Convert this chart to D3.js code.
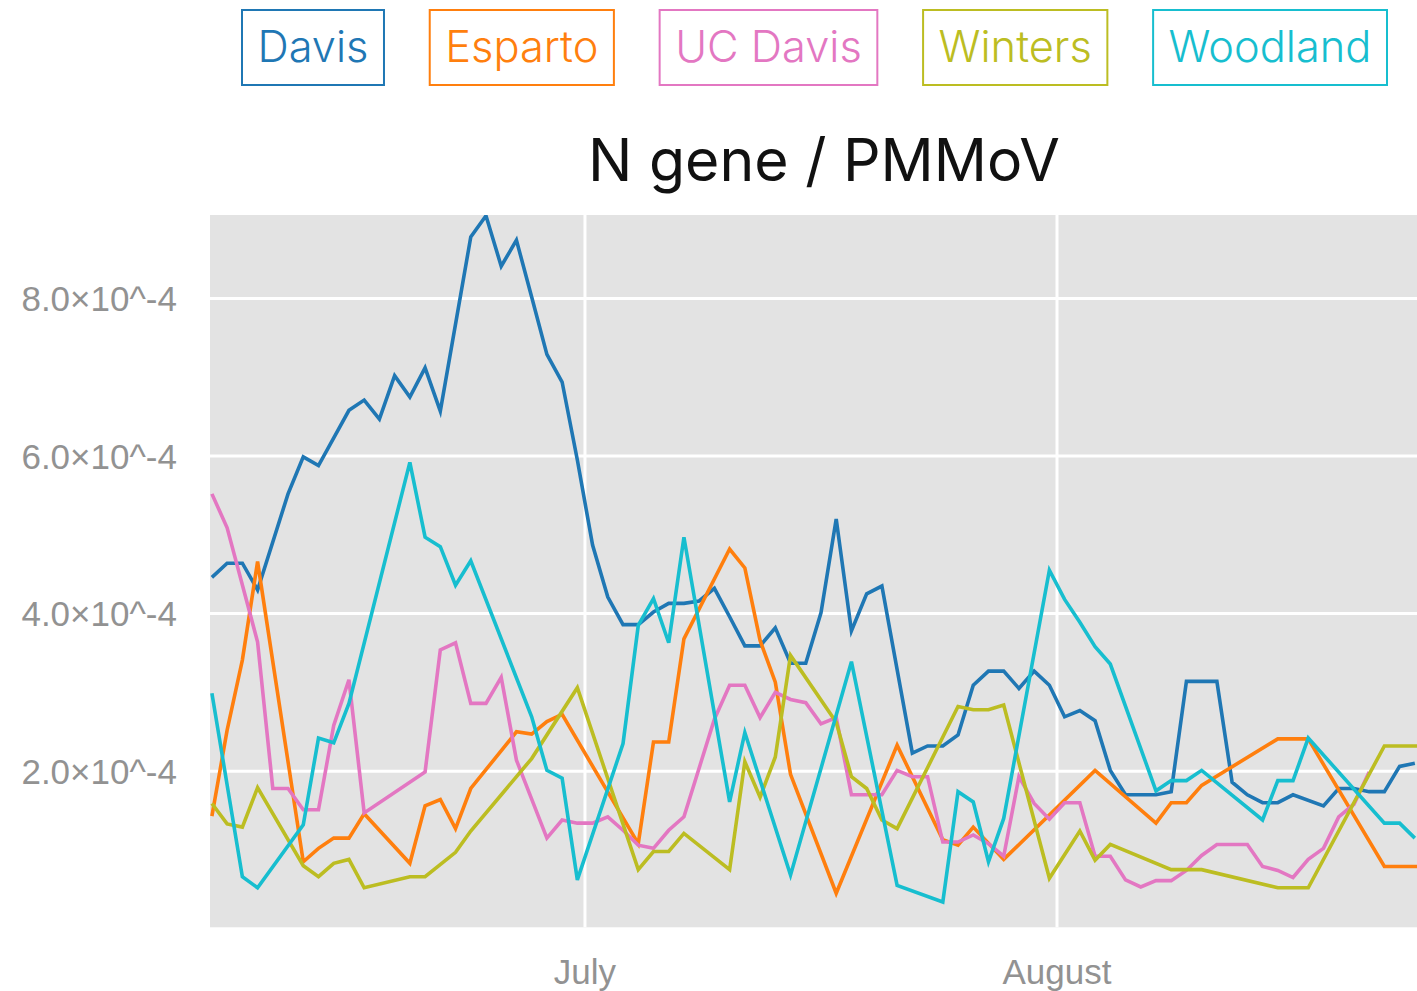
<!DOCTYPE html>
<html lang="en">
<head>
<meta charset="utf-8">
<script src="https://d3js.org/d3.v7.min.js"></script>
<title>N gene / PMMoV</title>
<style>
  body { margin: 0; background: #fff; }
</style>
</head>
<body>
<svg width="1417" height="991"></svg>
<script>
// day = days after June 6, value = N gene / PMMoV in units of 10^-4
var sites = ["Davis", "Esparto", "UC Davis", "Winters", "Woodland"];
var colors = ["#1f77b4", "#ff7f0e", "#e377c2", "#bcbd22", "#17becf"];

var davis = [[0,4.46],[1,4.64],[2,4.64],[3,4.30],[5,5.52],[6,5.99],[7,5.88],[9,6.58],[10,6.71],[11,6.47],
  [12,7.02],[13,6.75],[14,7.12],[15,6.57],[17,8.78],[18,9.05],[19,8.41],[20,8.74],[21,8.02],[22,7.29],
  [23,6.94],[24,5.95],[25,4.87],[26,4.21],[27,3.86],[28,3.86],[29,4.02],[30,4.13],[31,4.13],[32,4.16],
  [33,4.32],[34,3.96],[35,3.59],[36,3.59],[37,3.82],[38,3.37],[39,3.37],[40,4.01],[41,5.20],[42,3.78],
  [43,4.25],[44,4.35],[46,2.23],[47,2.32],[48,2.32],[49,2.46],[50,3.09],[51,3.27],[52,3.27],[53,3.05],
  [54,3.27],[55,3.09],[56,2.69],[57,2.77],[58,2.64],[59,2.01],[60,1.70],[61,1.70],[62,1.70],[63,1.74],
  [64,3.14],[65,3.14],[66,3.14],[67,1.86],[68,1.70],[69,1.60],[70,1.60],[71,1.70],[73,1.56],[74,1.78],
  [75,1.78],[76,1.74],[77,1.74],[78,2.06],[79,2.10]];

var esparto = [[0,1.43],[1,2.52],[2,3.41],[3,4.66],[6,0.85],[7,1.02],[8,1.15],[9,1.15],[10,1.46],[13,0.83],
  [14,1.56],[15,1.64],[16,1.27],[17,1.78],[20,2.50],[21,2.47],[22,2.63],[23,2.72],[28,1.08],[29,2.37],
  [30,2.37],[31,3.68],[34,4.82],[35,4.58],[36,3.66],[37,3.13],[38,1.96],[41,0.45],[45,2.33],[48,1.13],
  [49,1.06],[50,1.29],[52,0.88],[58,2.01],[62,1.34],[63,1.60],[64,1.60],[65,1.82],[70,2.41],[72,2.41],
  [77,0.79],[79,0.79],[80,0.79]];

var ucDavis = [[0,5.52],[1,5.09],[3,3.64],[4,1.78],[5,1.78],[6,1.51],[7,1.51],[8,2.58],[9,3.16],[10,1.47],
  [14,1.99],[15,3.54],[16,3.63],[17,2.86],[18,2.86],[19,3.19],[20,2.14],[22,1.15],[23,1.38],[24,1.34],
  [25,1.34],[26,1.42],[27,1.25],[28,1.06],[29,1.02],[30,1.25],[31,1.42],[33,2.66],[34,3.09],[35,3.09],
  [36,2.68],[37,3.00],[38,2.91],[39,2.87],[40,2.60],[41,2.68],[42,1.70],[44,1.70],[45,2.01],[46,1.93],
  [47,1.93],[48,1.10],[49,1.10],[50,1.19],[51,1.08],[52,0.92],[53,1.93],[54,1.59],[55,1.39],[56,1.60],
  [57,1.60],[58,0.92],[59,0.92],[60,0.62],[61,0.53],[62,0.61],[63,0.61],[64,0.74],[65,0.93],[66,1.07],
  [67,1.07],[68,1.07],[69,0.79],[70,0.74],[71,0.65],[72,0.88],[73,1.02],[74,1.42],[75,1.58],[76,1.99]];

var winters = [[0,1.59],[1,1.33],[2,1.29],[3,1.79],[6,0.80],[7,0.66],[8,0.83],[9,0.88],[10,0.52],[13,0.66],
  [14,0.66],[16,0.97],[17,1.24],[21,2.16],[24,3.06],[28,0.75],[29,0.98],[30,0.98],[31,1.21],[34,0.75],
  [35,2.12],[36,1.67],[37,2.18],[38,3.47],[41,2.62],[42,1.93],[43,1.78],[44,1.38],[45,1.27],[49,2.82],
  [50,2.78],[51,2.78],[52,2.84],[55,0.64],[57,1.24],[58,0.87],[59,1.07],[63,0.75],[65,0.75],[70,0.52],
  [72,0.52],[77,2.32],[79,2.32],[80,2.32]];

var woodland = [[0,2.99],[2,0.66],[3,0.52],[6,1.32],[7,2.42],[8,2.36],[9,2.86],[13,5.92],[14,4.97],[15,4.85],
  [16,4.36],[17,4.67],[21,2.69],[22,2.01],[23,1.91],[24,0.62],[27,2.35],[28,3.85],[29,4.19],[30,3.63],
  [31,4.97],[34,1.61],[35,2.49],[38,0.68],[42,3.39],[45,0.55],[48,0.34],[49,1.74],[50,1.61],[51,0.85],
  [52,1.40],[55,4.55],[56,4.18],[57,3.89],[58,3.58],[59,3.36],[62,1.75],[63,1.88],[64,1.88],[65,2.01],
  [69,1.38],[70,1.88],[71,1.88],[72,2.42],[77,1.34],[78,1.34],[79,1.15]];

var yTicks = [2, 4, 6, 8];
var title = "N gene / PMMoV";

var series = [davis, esparto, ucDavis, winters, woodland];

var svg = d3.select("svg"),
    width = +svg.attr("width"),
    plotLeft = 210, plotTop = 215, plotBottom = 927.3;

function dayToDate(d) { return new Date(2021, 5, 6 + d, 12); }

var x = d3.scaleTime()
    .domain([new Date(2021, 5, 6, 9), new Date(2021, 7, 1)])
    .range([plotLeft, 1057]);
var y = d3.scaleLinear().domain([0.018, 9.06]).range([plotBottom, plotTop]);

// plot background
svg.append("rect")
    .attr("x", plotLeft).attr("y", plotTop)
    .attr("width", width - plotLeft).attr("height", plotBottom - plotTop)
    .style("fill", "#e3e3e3");

svg.append("clipPath").attr("id", "plot")
  .append("rect")
    .attr("x", plotLeft).attr("y", plotTop)
    .attr("width", width - plotLeft).attr("height", plotBottom - plotTop);

// grid
svg.append("g").selectAll("line")
    .data(yTicks).enter().append("line")
    .attr("x1", plotLeft).attr("x2", width)
    .attr("y1", function (d) { return y(d); })
    .attr("y2", function (d) { return y(d); })
    .style("stroke", "#fff").style("stroke-width", 3);

var months = x.ticks(d3.timeMonth.every(1)).filter(function (d) { return x(d) > plotLeft && x(d) < width; });
svg.append("g").selectAll("line")
    .data(months).enter().append("line")
    .attr("x1", function (d) { return x(d); })
    .attr("x2", function (d) { return x(d); })
    .attr("y1", plotTop).attr("y2", plotBottom)
    .style("stroke", "#fff").style("stroke-width", 3);

// tick labels
svg.append("g").selectAll("text")
    .data(yTicks).enter().append("text")
    .attr("x", 177)
    .attr("y", function (d) { return y(d); })
    .attr("dy", "0.36em")
    .attr("text-anchor", "end")
    .style("font-family", "'Liberation Sans', Arial, sans-serif")
    .style("font-size", "35px")
    .style("fill", "#929292")
    .text(function (d) { return d3.format(".1f")(d) + "\u00d710^-4"; });

svg.append("g").selectAll("text")
    .data(months).enter().append("text")
    .attr("x", function (d) { return x(d); })
    .attr("y", 984)
    .attr("text-anchor", "middle")
    .style("font-family", "'Liberation Sans', Arial, sans-serif")
    .style("font-size", "35px")
    .style("fill", "#929292")
    .text(d3.timeFormat("%B"));

// lines
var line = d3.line()
    .x(function (d) { return x(dayToDate(d[0])); })
    .y(function (d) { return y(d[1]); });

svg.append("g").attr("clip-path", "url(#plot)")
  .selectAll("path")
    .data(series).enter().append("path")
    .attr("d", line)
    .style("fill", "none")
    .style("stroke", function (d, i) { return colors[i]; })
    .style("stroke-width", 3.6)
    .style("stroke-linejoin", "miter");

// title, sized to the reference width
var t = svg.append("text")
    .attr("x", 824).attr("y", 181)
    .attr("text-anchor", "middle")
    .style("font-family", "Inter, 'Noto Sans', sans-serif")
    .style("font-size", "56px")
    .style("fill", "#111")
    .text(title);
t.style("font-size", (56 * 472 / t.node().getComputedTextLength()) + "px");

// legend boxes
var lg = svg.append("g");
var items = lg.selectAll("g").data(sites).enter().append("g");
var labels = items.append("text")
    .attr("y", 62)
    .style("font-family", "Inter, 'Noto Sans', sans-serif")
    .style("font-weight", 300)
    .style("font-size", "40px")
    .style("fill", function (d, i) { return colors[i]; })
    .text(function (d) { return d; });

var widths = [];
labels.each(function () { widths.push(this.getComputedTextLength()); });
var k = 807 / d3.sum(widths);
labels.style("font-size", (40 * k) + "px");
widths = widths.map(function (w) { return w * k; });

var pad = 16.5, x0 = 241, x1 = 1388;
var gap = (x1 - x0 - d3.sum(widths) - 2 * pad * sites.length) / (sites.length - 1);
var pos = x0;
items.each(function (d, i) {
  var g = d3.select(this);
  g.insert("rect", "text")
      .attr("x", pos + 1).attr("y", 10)
      .attr("width", widths[i] + 2 * pad - 2).attr("height", 75)
      .style("fill", "#fff")
      .style("stroke", colors[i]).style("stroke-width", 2);
  g.select("text").attr("x", pos + pad);
  pos += widths[i] + 2 * pad + gap;
});
</script>
</body>
</html>
